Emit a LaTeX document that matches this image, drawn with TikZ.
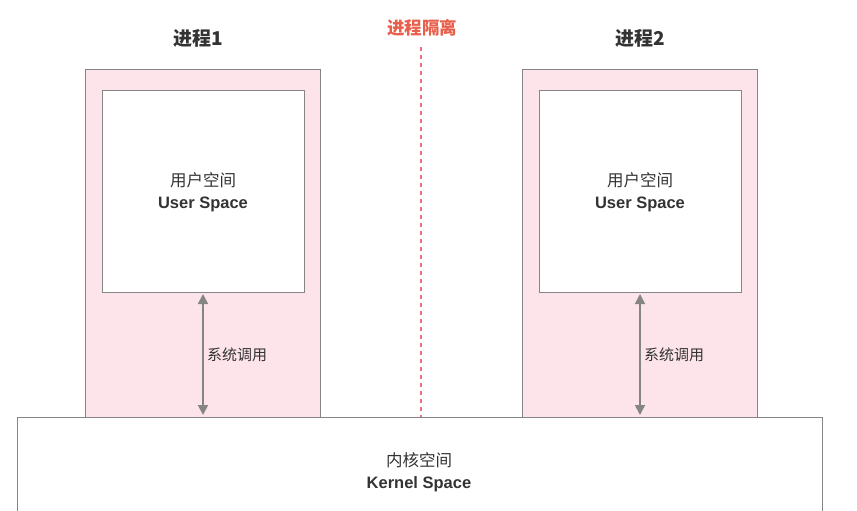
\documentclass[tikz,border=0pt]{standalone}
\usepackage{fontspec}
\setmainfont{Liberation Sans}
\newfontfamily\cjk{Noto Sans CJK SC}
\usetikzlibrary{arrows.meta}
\definecolor{pinkfill}{HTML}{FCE4EA}
\definecolor{boxline}{HTML}{858585}
\definecolor{txt}{HTML}{333333}
\definecolor{redtxt}{HTML}{E8604C}
\definecolor{dashred}{HTML}{E8707F}
\tikzset{
  procbox/.style={draw=boxline, line width=1.3pt, fill=pinkfill, minimum width=235pt, minimum height=348pt, inner sep=0pt},
  userbox/.style={draw=boxline, line width=1.3pt, fill=white, minimum width=202pt, minimum height=202pt, inner sep=0pt},
  kernbox/.style={draw=boxline, line width=1.3pt, fill=white, minimum width=805pt, minimum height=130pt, inner sep=0pt},
  title/.style={text=txt, font=\cjk\bfseries\fontsize{19}{22}\selectfont},
  syscall/.style={draw=boxline, line width=1.8pt, {Triangle[length=10pt,width=10pt]}-{Triangle[length=10pt,width=10pt]}},
  lbl/.style={text=txt, font=\cjk\fontsize{15}{18}\selectfont},
  spacetxt/.style={text=txt, align=center, font=\fontsize{16.5}{22}\selectfont}
}
\begin{document}
\begin{tikzpicture}[x=1pt,y=-1pt]
\useasboundingbox[fill=white] (0,0) rectangle (857,511);
% process boxes
\node[procbox, anchor=north west] (p1) at (85,69) {};
\node[procbox, anchor=north west] (p2) at (522,69) {};
\node[userbox, anchor=north west] (u1) at (102,90) {};
\node[userbox, anchor=north west] (u2) at (539,90) {};
\node[spacetxt] (ut1) at (203,192) {{\cjk 用户空间}\\ \bfseries User Space};
\node[spacetxt] (ut2) at (640,192) {{\cjk 用户空间}\\ \bfseries User Space};
% kernel
\node[kernbox, anchor=north west] (k) at (17,417) {};
\node[spacetxt] (kt) at (419,472) {{\cjk 内核空间}\\ \bfseries Kernel Space};
% titles
\node[title] (t1) at (198,38) {进程1};
\node[title] (t2) at (640,38) {进程2};
\node[text=redtxt, font=\cjk\bfseries\fontsize{17.5}{20}\selectfont] (iso) at (422,28) {进程隔离};
% dashed separator
\coordinate (dtop) at (421,47);
\coordinate (dbot) at (421,417);
\draw[dashred, line width=1.6pt, dash pattern=on 4pt off 4pt] (dtop) -- (dbot);
% syscall arrows
\coordinate (a1t) at (203,294);
\coordinate (a1b) at (203,415);
\coordinate (a2t) at (640,294);
\coordinate (a2b) at (640,415);
\draw[syscall] (a1t) -- (a1b);
\draw[syscall] (a2t) -- (a2b);
\node[lbl] (s1) at (237,355) {系统调用};
\node[lbl] (s2) at (674,355) {系统调用};
\end{tikzpicture}
\end{document}
